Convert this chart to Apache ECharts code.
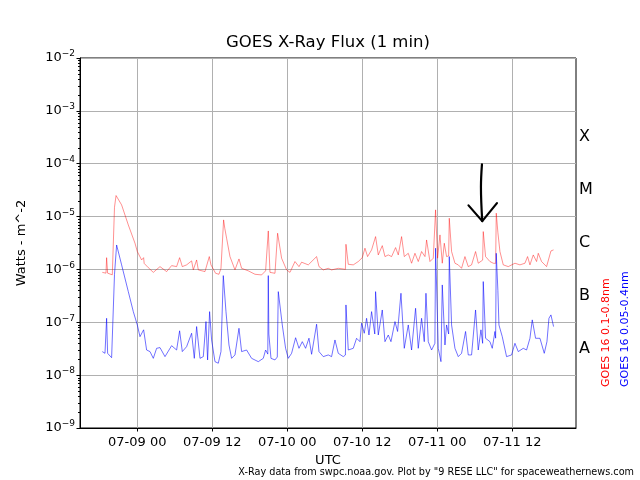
<!DOCTYPE html>
<html><head><meta charset="utf-8">
<script src="https://cdn.jsdelivr.net/npm/echarts@6/dist/echarts.min.js"></script>
<style>html,body{margin:0;padding:0;background:#fff}#c{width:640px;height:480px}</style>
</head><body><div id="c"></div>
<script>
// hours since 07-08 00:00 UTC, flux in W/m^2
const redData = [[18.40,8.8e-7],[18.99,8.5e-7],[19.09,1.67e-6],[19.25,8.5e-7],[20.0,7.9e-7],[20.2,8.2e-7],[20.35,1.5e-5],[20.6,2.5e-5],[20.8,2.65e-5],[21.49,1.66e-5],[22.56,6.95e-6],[23.63,3.13e-6],[24.0,2.18e-6],[24.05,2.34e-6],[24.69,1.51e-6],[25.01,1.67e-6],[25.1,1.3e-6],[25.76,1.08e-6],[26.56,8.8e-7],[27.63,1.13e-6],[28.69,9.1e-7],[29.49,1.18e-6],[30.29,1.13e-6],[30.77,1.67e-6],[31.2,1.13e-6],[31.89,1.22e-6],[32.69,1.45e-6],[32.96,9.8e-7],[33.49,1.51e-6],[33.76,9.8e-7],[34.83,9.1e-7],[35.52,1.75e-6],[35.79,1.22e-6],[36.0,1.13e-6],[36.53,8.45e-7],[37.07,8.1e-7],[37.39,1.05e-6],[37.7,1.0e-6],[37.81,8.65e-6],[38.0,6.0e-6],[38.29,3.89e-6],[38.83,1.75e-6],[39.63,9.8e-7],[40.27,1.58e-6],[40.69,1.05e-6],[41.76,9.4e-7],[42.83,8.1e-7],[43.89,7.87e-7],[44.53,9.4e-7],[44.85,9.0e-7],[44.96,5.35e-6],[45.23,8.8e-7],[46.03,8.45e-7],[46.35,8.5e-7],[46.45,4.84e-6],[47.09,1.63e-6],[47.89,9.8e-7],[48.43,8.8e-7],[49.23,1.41e-6],[49.87,1.13e-6],[50.29,1.37e-6],[51.36,1.22e-6],[52.69,1.75e-6],[53.07,1.13e-6],[53.76,9.8e-7],[54.56,1.05e-6],[55.09,9.8e-7],[56.16,1.05e-6],[56.96,1.02e-6],[57.3,1.0e-6],[57.39,2.99e-6],[57.76,1.25e-6],[58.56,1.22e-6],[59.36,1.41e-6],[60.0,1.67e-6],[60.43,2.52e-6],[60.85,1.75e-6],[61.49,2.34e-6],[62.13,4.18e-6],[62.56,1.88e-6],[63.2,2.82e-6],[63.63,1.75e-6],[64.16,1.88e-6],[64.69,1.75e-6],[65.33,2.59e-6],[65.76,1.88e-6],[66.29,4.18e-6],[66.72,1.75e-6],[67.36,2.02e-6],[67.89,1.31e-6],[68.43,2.02e-6],[68.96,1.41e-6],[69.49,2.18e-6],[70.03,1.75e-6],[70.29,3.61e-6],[70.83,1.41e-6],[71.36,1.63e-6],[71.62,1.6e-6],[71.73,1.34e-5],[72.05,1.63e-6],[72.43,4.5e-6],[72.8,1.31e-6],[73.12,3.13e-6],[73.49,1.75e-6],[73.82,1.8e-6],[73.92,9.3e-6],[74.29,2.18e-6],[74.83,1.31e-6],[75.36,1.22e-6],[75.89,1.05e-6],[76.43,1.75e-6],[76.96,1.13e-6],[77.49,1.22e-6],[78.13,2.18e-6],[78.56,1.31e-6],[79.26,1.5e-6],[79.36,5.2e-6],[79.73,1.75e-6],[80.43,1.41e-6],[80.96,1.31e-6],[81.34,1.3e-6],[81.44,1.16e-5],[81.7,5.0e-6],[82.03,2.18e-6],[82.56,1.22e-6],[83.36,1.13e-6],[84.43,1.31e-6],[85.23,1.22e-6],[86.03,1.31e-6],[86.45,1.75e-6],[86.83,1.22e-6],[87.36,1.88e-6],[87.89,1.41e-6],[88.16,2.02e-6],[88.69,1.41e-6],[89.49,1.13e-6],[90.19,2.24e-6],[90.61,2.34e-6]];

const blueData = [[18.40,2.79e-8],[18.83,2.59e-8],[19.0,2.7e-8],[19.09,1.19e-7],[19.25,2.59e-8],[19.89,2.14e-8],[20.2,2.2e-8],[20.35,8e-7],[20.69,2.9e-6],[21.49,1.22e-6],[22.56,3.8e-7],[23.36,1.59e-7],[24.0,8.9e-8],[24.43,5.35e-8],[25.01,7.2e-8],[25.49,2.99e-8],[26.03,2.79e-8],[26.56,2.08e-8],[27.09,3.22e-8],[27.63,3.32e-8],[28.43,2.24e-8],[29.49,3.61e-8],[30.29,2.99e-8],[30.77,6.9e-8],[31.2,2.79e-8],[31.89,3.46e-8],[32.69,6.2e-8],[33.12,2.08e-8],[33.49,8.3e-8],[34.03,2.08e-8],[34.56,2.24e-8],[34.99,1.03e-7],[35.25,1.94e-8],[35.57,1.59e-7],[35.89,4.63e-8],[36.43,1.8e-8],[36.96,1.68e-8],[37.39,2.79e-8],[37.65,3e-8],[37.76,7.64e-7],[38.19,1.59e-7],[38.67,3.72e-8],[39.09,2.08e-8],[39.63,2.41e-8],[40.27,7.7e-8],[40.69,2.79e-8],[41.49,2.99e-8],[42.29,2.08e-8],[43.36,1.8e-8],[44.16,2.08e-8],[44.53,2.99e-8],[44.88,2.5e-8],[44.96,7.64e-7],[45.05,6e-8],[45.39,2.08e-8],[46.03,1.94e-8],[46.4,2.2e-8],[46.56,3.8e-7],[47.2,8.9e-8],[47.73,3.22e-8],[48.16,2.08e-8],[48.69,2.59e-8],[49.33,5.1e-8],[49.87,3.22e-8],[50.4,4.3e-8],[50.93,3.22e-8],[51.47,5.0e-8],[51.89,2.48e-8],[52.69,9.2e-8],[53.07,2.79e-8],[53.76,2.24e-8],[54.56,2.41e-8],[55.09,2.24e-8],[55.63,4.63e-8],[56.16,2.59e-8],[56.96,2.24e-8],[57.3,2.4e-8],[57.39,2.13e-7],[57.76,2.99e-8],[58.56,3.22e-8],[59.09,4.98e-8],[59.63,4.3e-8],[59.89,9.6e-8],[60.32,6.2e-8],[60.69,1.19e-7],[61.07,5.75e-8],[61.49,1.59e-7],[62.0,6e-8],[62.13,3.8e-7],[62.56,5.75e-8],[63.2,1.71e-7],[63.63,4.3e-8],[64.16,5.75e-8],[64.59,4.3e-8],[65.23,1.03e-7],[65.65,6.7e-8],[66.19,3.54e-7],[66.72,3.22e-8],[67.36,8.9e-8],[67.89,2.99e-8],[68.53,1.84e-7],[68.96,3.22e-8],[69.49,1.19e-7],[69.92,4.3e-8],[70.19,3.54e-7],[70.56,4.3e-8],[71.09,2.99e-8],[71.62,4e-8],[71.73,2.52e-6],[72.16,3.22e-8],[72.59,1.8e-8],[72.8,5.09e-7],[73.23,3.72e-8],[73.49,8.9e-8],[73.82,6e-8],[73.92,1.75e-6],[74.29,8.9e-8],[74.83,3.22e-8],[75.36,2.24e-8],[75.89,2.59e-8],[76.53,6.7e-8],[76.96,2.41e-8],[77.49,2.41e-8],[78.13,1.71e-7],[78.56,2.99e-8],[78.99,7.2e-8],[79.26,4e-8],[79.36,5.89e-7],[79.73,4.98e-8],[80.43,4.3e-8],[80.8,3.22e-8],[81.23,6.7e-8],[81.34,5e-8],[81.44,2.02e-6],[81.7,4e-7],[81.87,8.9e-8],[82.4,5.35e-8],[83.09,2.24e-8],[83.89,2.41e-8],[84.43,4.0e-8],[84.96,2.79e-8],[85.76,3.22e-8],[86.29,2.99e-8],[86.83,4.98e-8],[87.2,1.11e-7],[87.73,4.98e-8],[88.43,4.98e-8],[89.12,2.59e-8],[89.55,4.3e-8],[89.87,1.19e-7],[90.19,1.38e-7],[90.61,8.3e-8]];

const arrowShaft = [[79.15,9.75e-5],[78.99,3.61e-5],[79.2,8.2e-6]];
const arrowHead = [[77.0,1.63e-5],[79.2,8.2e-6],[81.55,1.80e-5]];

const xTickHours = [24,36,48,60,72,84];
const xTickLabels = ['07-09 00','07-09 12','07-10 00','07-10 12','07-11 00','07-11 12'];
const classLetters = ['X','M','C','B','A'];
const classExps = [-3.5,-4.5,-5.5,-6.5,-7.5];
const xMin = 14.83, xMax = 94.2;

const FONT = 'DejaVu Sans';
// minor log ticks (2..9 x 10^e) on the left spine
const minorTicks = [];
for (let e = -9; e < -2; e++) for (let k = 2; k <= 9; k++) minorTicks.push([xMin, k * Math.pow(10, e)]);

const chart = echarts.init(document.getElementById('c'), null, {renderer: 'canvas'});
chart.setOption({
  animation: false,
  backgroundColor: '#fff',
  grid: {left: 80, right: 64, top: 58, bottom: 52, show: true, borderColor: '#000', borderWidth: 1, backgroundColor: 'transparent', outerBoundsMode: 'none'},
  xAxis: {
    type: 'value', min: xMin, max: xMax,
    axisLine: {show: true, lineStyle: {color: '#000', width: 1}},
    axisTick: {show: true, length: 3.5, customValues: xTickHours, lineStyle: {color: '#000'}},
    axisLabel: {customValues: xTickHours, formatter: v => xTickLabels[xTickHours.indexOf(Math.round(v))], fontSize: 13, fontFamily: FONT, color: '#000', margin: 8},
    splitLine: {show: true, lineStyle: {color: '#b0b0b0', width: 1}},
    name: 'UTC', nameLocation: 'middle', nameGap: 25,
    nameTextStyle: {fontSize: 13, fontFamily: FONT, color: '#000'}
  },
  yAxis: [
    {
      type: 'log', logBase: 10, min: 1e-9, max: 1e-2, interval: 1, position: 'left',
      axisLine: {show: true, lineStyle: {color: '#000'}},
      axisTick: {show: true, length: 3.5, lineStyle: {color: '#000'}},
      splitLine: {show: true, lineStyle: {color: '#b0b0b0', width: 1}},
      axisLabel: {
        margin: 5,
        formatter: v => '{b|10}{s|\u2212' + (-Math.round(Math.log10(v))) + '}',
        rich: {
          b: {fontSize: 13, fontFamily: FONT, color: '#000'},
          s: {fontSize: 9, fontFamily: FONT, color: '#000', padding: [0, 0, 8, 0]}
        }
      },
      name: 'Watts - m^-2', nameLocation: 'middle', nameGap: 52,
      nameTextStyle: {fontSize: 13, fontFamily: FONT, color: '#000'}
    },
    {
      type: 'value', min: -9, max: -2, position: 'right',
      axisLine: {show: false}, splitLine: {show: false}, axisTick: {show: false},
      axisLabel: {
        customValues: classExps,
        formatter: v => {
          let best = 0;
          classExps.forEach((e, i) => { if (Math.abs(e - v) < Math.abs(classExps[best] - v)) best = i; });
          return classLetters[best];
        },
        fontSize: 16, fontFamily: FONT, color: '#000', margin: 3
      }
    }
  ],
  series: [
    {type: 'line', name: 'GOES 16 0.1-0.8nm', data: redData, yAxisIndex: 0, showSymbol: false, symbol: 'none',
     lineStyle: {color: 'rgba(255,0,0,0.55)', width: 0.8}, itemStyle: {color: 'red'}, z: 3},
    {type: 'line', name: 'GOES 16 0.05-0.4nm', data: blueData, yAxisIndex: 0, showSymbol: false, symbol: 'none',
     lineStyle: {color: 'rgba(0,0,255,0.7)', width: 0.8}, itemStyle: {color: 'blue'}, z: 3},
    {type: 'line', data: arrowShaft, yAxisIndex: 0, showSymbol: false, symbol: 'none', smooth: 0.4,
     lineStyle: {color: '#000', width: 2.2, cap: 'round'}, z: 5},
    {type: 'line', data: arrowHead, yAxisIndex: 0, showSymbol: false, symbol: 'none',
     lineStyle: {color: '#000', width: 2.2, cap: 'round', join: 'round'}, z: 5},
    {type: 'custom', data: minorTicks, yAxisIndex: 0, clip: false, silent: true, z: 6,
     renderItem: (params, api) => {
       const p = api.coord([api.value(0), api.value(1)]);
       const y = Math.round(p[1]) + 0.5;
       return {type: 'line', shape: {x1: p[0] - 2, y1: y, x2: p[0], y2: y}, style: {stroke: '#000', lineWidth: 1}};
     }}
  ],
  graphic: [
    {type: 'text', x: 328, y: 43, style: {text: 'GOES X-Ray Flux (1 min)', font: '16.5px "DejaVu Sans"', fill: '#000', align: 'center', verticalAlign: 'middle', textAlign: 'center', textVerticalAlign: 'middle'}},
    {type: 'text', x: 634, y: 472, style: {text: 'X-Ray data from swpc.noaa.gov. Plot by "9 RESE LLC" for spaceweathernews.com', font: '9.7px "DejaVu Sans"', fill: '#000', align: 'right', verticalAlign: 'middle', textAlign: 'right', textVerticalAlign: 'middle'}},
    {type: 'text', x: 606, y: 387, rotation: Math.PI / 2, style: {text: 'GOES 16 0.1-0.8nm', font: '11px "DejaVu Sans"', fill: '#ff0000', align: 'left', verticalAlign: 'middle', textAlign: 'left', textVerticalAlign: 'middle'}},
    {type: 'text', x: 625, y: 387, rotation: Math.PI / 2, style: {text: 'GOES 16 0.05-0.4nm', font: '11px "DejaVu Sans"', fill: '#0000ff', align: 'left', verticalAlign: 'middle', textAlign: 'left', textVerticalAlign: 'middle'}}
  ]
});
</script></body></html>
